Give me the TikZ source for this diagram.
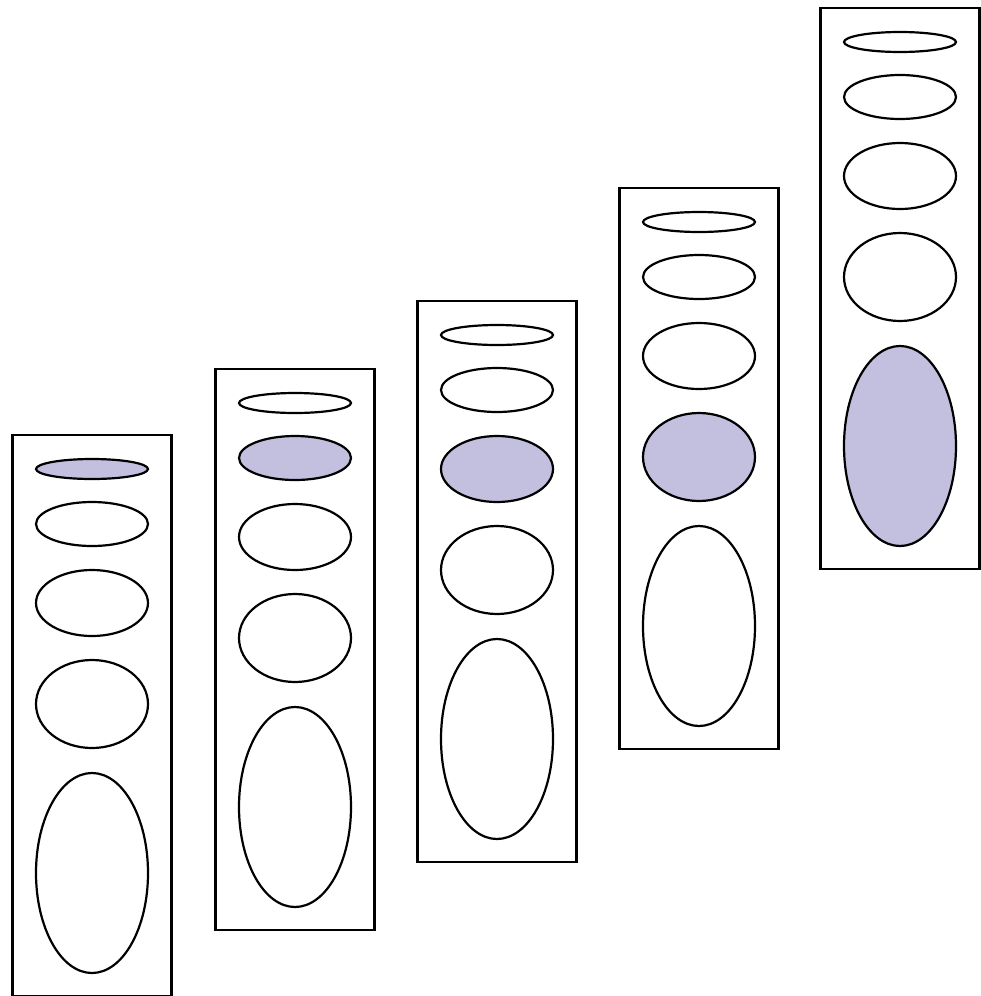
\documentclass[tikz,border=0pt]{standalone}
\usetikzlibrary{shapes.geometric}
\definecolor{lav}{RGB}{194,191,223}
\tikzset{
  panel/.style={draw=black, line width=2.8pt, rectangle, minimum width=159pt, minimum height=561pt, inner sep=0pt, fill=white},
  oval/.style={draw=black, line width=2.2pt, ellipse, minimum width=112pt, inner sep=0pt},
  hot/.style={fill=lav}
}
\begin{document}
\begin{tikzpicture}[x=1pt,y=-1pt]
\useasboundingbox (0,0) rectangle (981,996);
\foreach \k/\cx/\top/\f in {1/92/435/1, 2/295/369/2, 3/497/301/3, 4/699/188/4, 5/900/8/5}{
  \node[panel] (box\k) at (\cx,\top+280.5) {};
  \foreach \j/\dy/\h in {1/34/20, 2/89/44, 3/168/66, 4/269/88, 5/438/200}{
    \ifnum\j=\f
      \node[oval,hot,minimum height=\h pt] (e\k\j) at (\cx,\top+\dy) {};
    \else
      \node[oval,minimum height=\h pt] (e\k\j) at (\cx,\top+\dy) {};
    \fi
  }
}
\end{tikzpicture}
\end{document}
